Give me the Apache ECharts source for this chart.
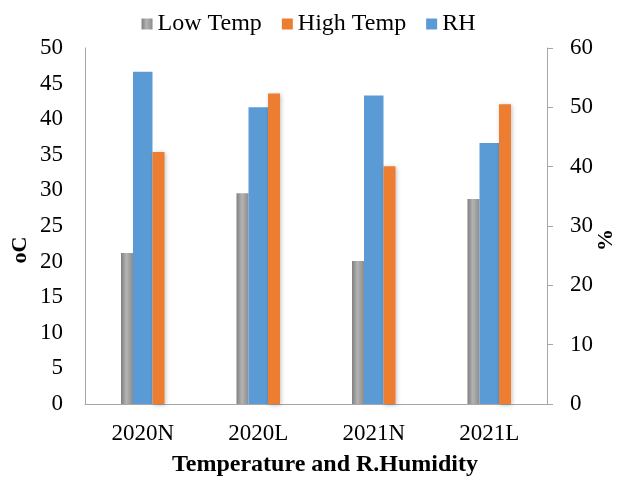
<!DOCTYPE html>
<html>
<head>
<meta charset="utf-8">
<script src="https://cdn.jsdelivr.net/npm/echarts@6/dist/echarts.min.js"></script>
<style>html,body{margin:0;padding:0;background:#fff}#c{width:617px;height:479px}</style>
</head>
<body>
<div id="c"></div>
<script>
const categories = ['2020N', '2020L', '2021N', '2021L'];
const lowTemp = [21.2, 29.6, 20.1, 28.8];
const highTemp = [35.4, 43.6, 33.4, 42.1];
const rh = [56.0, 50.0, 52.0, 44.0];
const leftTicks = { min: 0, max: 50, interval: 5 };
const rightTicks = { min: 0, max: 60, interval: 10 };

const FONT = "'Liberation Serif', 'Times New Roman', serif";
const grayGrad = new echarts.graphic.LinearGradient(0, 0, 1, 0, [
  { offset: 0, color: '#7f7f7f' },
  { offset: 0.45, color: '#b4b4b4' },
  { offset: 1, color: '#8c8c8c' }
]);
const txt = (size, weight) => ({ fontFamily: FONT, fontSize: size, fontWeight: weight || 'normal', color: '#000' });

const chart = echarts.init(document.getElementById('c'), null, { renderer: 'canvas' });
chart.setOption({
  animation: false,
  textStyle: { fontFamily: FONT },
  legend: {
    top: 7,
    left: 'center',
    data: ['Low Temp', 'High Temp', 'RH'],
    itemWidth: 11,
    itemHeight: 11,
    itemGap: 20,
    icon: 'rect',
    textStyle: txt(24)
  },
  grid: { left: 85, right: 70, top: 48, bottom: 75, containLabel: false, outerBoundsMode: 'none' },
  xAxis: {
    type: 'category',
    data: categories,
    axisLine: { lineStyle: { color: '#a6a6a6', width: 1 } },
    axisTick: { show: false },
    axisLabel: Object.assign(txt(23), { margin: 18 }),
    name: 'Temperature and R.Humidity',
    nameLocation: 'middle',
    nameGap: 49,
    nameTextStyle: Object.assign(txt(24, 'bold'), { padding: [0, 0, 0, 18] })
  },
  yAxis: [
    {
      type: 'value',
      min: leftTicks.min, max: leftTicks.max, interval: leftTicks.interval,
      axisLine: { show: true, lineStyle: { color: '#a6a6a6' } },
      axisTick: { show: false },
      splitLine: { show: false },
      axisLabel: Object.assign(txt(23), { margin: 22 })
    },
    {
      type: 'value',
      position: 'right',
      min: rightTicks.min, max: rightTicks.max, interval: rightTicks.interval,
      axisLine: { show: true, lineStyle: { color: '#a6a6a6' } },
      axisTick: { show: true, length: 6, lineStyle: { color: '#a6a6a6' } },
      splitLine: { show: false },
      axisLabel: Object.assign(txt(23), { margin: 23 })
    }
  ],
  graphic: [
    {
      type: 'text', x: 20, y: 250, rotation: Math.PI / 2,
      style: { text: 'oC', font: "bold 22px 'Liberation Serif', serif", fill: '#000', align: 'center', verticalAlign: 'middle' }
    },
    {
      type: 'text', x: 606, y: 240, rotation: Math.PI / 2,
      style: { text: '%', font: "bold 22px 'Liberation Serif', serif", fill: '#000', align: 'center', verticalAlign: 'middle' }
    }
  ],
  series: [
    {
      name: 'Low Temp', type: 'bar', yAxisIndex: 0, data: lowTemp,
      barWidth: 12, barGap: '0%',
      itemStyle: { color: grayGrad }
    },
    {
      name: 'RH', type: 'bar', yAxisIndex: 1, data: rh,
      barWidth: 19.5, barGap: '0%',
      itemStyle: { color: '#5b9bd5' }
    },
    {
      name: 'High Temp', type: 'bar', yAxisIndex: 0, data: highTemp,
      barWidth: 12, barGap: '0%',
      itemStyle: { color: '#ed7d31', shadowColor: 'rgba(0,0,0,0.25)', shadowBlur: 4, shadowOffsetX: 1, shadowOffsetY: 1 }
    }
  ]
});
</script>
</body>
</html>
